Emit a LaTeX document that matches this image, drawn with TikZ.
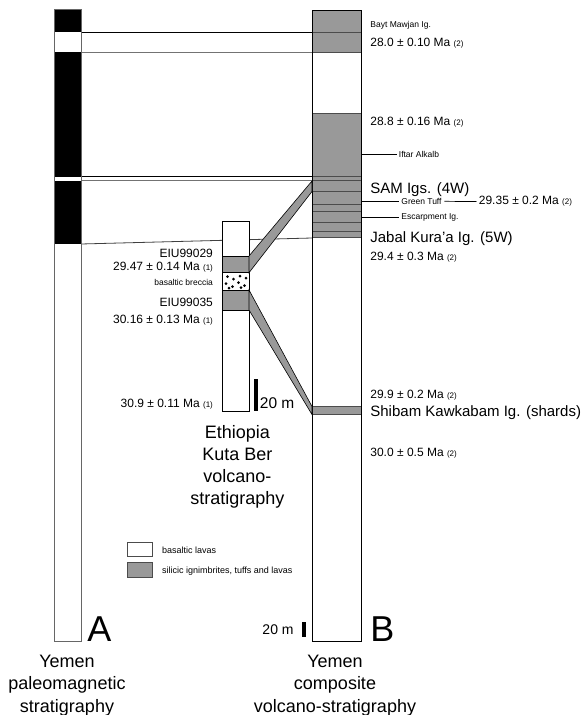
\documentclass[tikz,border=0pt]{standalone}
\usepackage{fontspec}
\setmainfont{Liberation Sans}
\definecolor{silgray}{RGB}{153,153,153}
\newcommand\refn[1]{{\fontsize{8}{9}\selectfont(#1)}}
\begin{document}
\begin{tikzpicture}[x=1pt,y=-1pt,line width=0.8pt,
  fsmall/.style={font=\fontsize{8.5}{10}\selectfont},
  fmid/.style={font=\fontsize{12}{14}\selectfont},
  fbig/.style={font=\fontsize{15}{18}\selectfont},
  ftitle/.style={font=\fontsize{18}{22}\selectfont},
  flet/.style={font=\fontsize{36}{40}\selectfont},
  lbl/.style={anchor=base west,inner sep=0pt},
  lblr/.style={anchor=base east,inner sep=0pt},
  ttl/.style={anchor=base,inner sep=0pt,ftitle},
  sil/.style={fill=silgray,draw=black,line width=0.6pt},
  tie/.style={draw=black,line width=0.8pt},
  tieg/.style={draw=black!55,line width=0.8pt},
  tied/.style={draw=black!75,line width=0.8pt},
  layer/.style={draw=black!70,line width=0.8pt},
  tick/.style={draw=black,line width=0.7pt}]
\useasboundingbox (0,0) rectangle (583,715);
\fill[white] (0,0) rectangle (583,715);

% ---- correlation lines A -> B
\coordinate (a1) at (81,32);   \coordinate (b1) at (312,32);
\coordinate (a2) at (81,52);   \coordinate (b2) at (312,52);
\coordinate (a3) at (81,176.7);\coordinate (b3) at (312,176.7);
\coordinate (a4) at (81,180.7);\coordinate (b4) at (312,180.7);
\coordinate (a5) at (81,244);  \coordinate (b5) at (312,238);
\draw[tie] (a1) -- (b1);
\draw[tieg] (a2) -- (b2);
\draw[tie] (a3) -- (b3);
\draw[tieg] (a4) -- (b4);
\draw[tied] (a5) -- (b5);

% ---- column A (paleomagnetic)
\draw[black!60,fill=white] (54,9) rectangle (81,641);
\fill[black] (54,9) rectangle (81,32);
\fill[black] (54,52) rectangle (81,176.7);
\fill[black] (54,180.7) rectangle (81,244);
\draw[black!60] (54,9) rectangle (81,641);

% ---- column B (composite)
\draw[fill=white] (312,10) rectangle (361,641);
\fill[silgray] (312,10) rectangle (361,52);
\fill[silgray] (312,113) rectangle (361,237.5);
\fill[silgray] (312,406.5) rectangle (361,414.5);
\foreach \yy in {32,52,113,176.7,180.7,191.5,204.3,211.7,222.3,231.7,237.5,406.5,414.5}
  \draw[layer] (312,\yy) -- (361,\yy);
\draw (312,10) rectangle (361,641);

% ---- Ethiopia column
\draw[fill=white] (222,221) rectangle (249,411);
\fill[silgray] (222,256) rectangle (249,272.7);
\fill[silgray] (222,290) rectangle (249,310);
\draw (222,256) -- (249,256) (222,272.7) -- (249,272.7) (222,290) -- (249,290) (222,310) -- (249,310);
\foreach \px/\py in {227.5/276.5,233.5/279,240/276,246/278,226/283.5,232.5/286.5,238.5/282.5,244.5/285.5,229/288,241/287.5}
  \fill[black] (\px,\py) circle (1.5);
\draw (222,221) rectangle (249,411);

% ---- correlation bands
\draw[sil] (249,256) -- (312,181) -- (312,191.5) -- (249,272.7) -- cycle;
\draw[sil] (249,290) -- (312,406.5) -- (312,414.5) -- (249,310) -- cycle;

% ---- scale bars
\fill[black] (254,379) rectangle (257.5,411);
\node[lbl,font=\fontsize{15.5}{18}\selectfont] (sc1) at (259.5,408.5) {20 m};
\fill[black] (302,622.3) rectangle (305.6,636.7);
\node[lblr,font=\fontsize{14}{16}\selectfont] (sc2) at (294,634.5) {20 m};

% ---- right labels
\node[lbl,fsmall] (bayt) at (370,27.3) {Bayt Mawjan Ig.};
\node[lbl,fmid] (d280) at (370,46) {28.0 ± 0.10 Ma \refn{2}};
\node[lbl,fmid] (d288) at (370,125) {28.8 ± 0.16 Ma \refn{2}};
\coordinate (iftL) at (362,154.3);
\node[anchor=west,inner sep=1.5pt,fsmall] (ift) at (397,154.3) {Iftar Alkalb};
\draw[tick] (iftL) -- (ift.west);
\node[lbl,fbig] (sam) at (370,193.3) {SAM Igs. (4W)};
\coordinate (gtL) at (362,201.3);
\node[anchor=west,inner sep=2.5pt,fsmall] (gt) at (398.5,201.3) {Green Tuff};
\draw[tick] (gtL) -- (gt.west);
\node[anchor=west,inner sep=2pt,fmid] (d2935) at (476.5,201.6) {29.35 ± 0.2 Ma \refn{2}};
\draw[tick] (gt.east) -- (d2935.west);
\coordinate (esL) at (362,217.3);
\node[anchor=west,inner sep=2.5pt,fsmall] (esc) at (398.5,217.3) {Escarpment Ig.};
\draw[tick] (esL) -- (esc.west);
\node[lbl,fbig] (jab) at (370,242.7) {Jabal Kura\char39 a Ig. (5W)};
\node[lbl,fmid] (d294) at (370,260) {29.4 ± 0.3 Ma \refn{2}};
\node[lbl,fmid] (d299) at (370,398) {29.9 ± 0.2 Ma \refn{2}};
\node[lbl,fbig] (shi) at (370,416.7) {Shibam Kawkabam Ig. (shards)};
\node[lbl,fmid] (d300) at (370,456.7) {30.0 ± 0.5 Ma \refn{2}};

% ---- Ethiopia labels
\node[lblr,fmid] (e29) at (213.3,257.3) {EIU99029};
\node[lblr,fmid] (e2947) at (213.3,270.7) {29.47 ± 0.14 Ma \refn{1}};
\node[lblr,fsmall] (brec) at (213.3,285) {basaltic breccia};
\node[lblr,fmid] (e35) at (213.3,306.7) {EIU99035};
\node[lblr,fmid] (e3016) at (213.3,323.3) {30.16 ± 0.13 Ma \refn{1}};
\node[lblr,fmid] (e309) at (213.3,407.7) {30.9 ± 0.11 Ma \refn{1}};

\node[ttl] (et1) at (237.3,438.3) {Ethiopia};
\node[ttl] (et2) at (237.3,460.3) {Kuta Ber};
\node[ttl] (et3) at (237.3,482.3) {volcano-};
\node[ttl] (et4) at (237.3,504.3) {stratigraphy};

% ---- legend
\draw[black!70,fill=white,line width=0.7pt] (127,542.7) rectangle (152.7,556.7);
\draw[black!70,fill=silgray,line width=0.7pt] (127,562.7) rectangle (152.7,577.3);
\node[lbl,font=\fontsize{9}{11}\selectfont] (lg1) at (161.7,553.2) {basaltic lavas};
\node[lbl,font=\fontsize{9}{11}\selectfont] (lg2) at (161.7,573.2) {silicic ignimbrites, tuffs and lavas};

% ---- letters and titles
\node[lbl,flet] (A) at (87,641.5) {A};
\node[lbl,flet] (B) at (370,641.5) {B};
\node[ttl] (ya1) at (67,667) {Yemen};
\node[ttl] (ya2) at (67,689.5) {paleomagnetic};
\node[ttl] (ya3) at (67,712) {stratigraphy};
\node[ttl] (yb1) at (335,667) {Yemen};
\node[ttl] (yb2) at (335,689.5) {composite};
\node[ttl] (yb3) at (335,712) {volcano-stratigraphy};
\end{tikzpicture}
\end{document}
